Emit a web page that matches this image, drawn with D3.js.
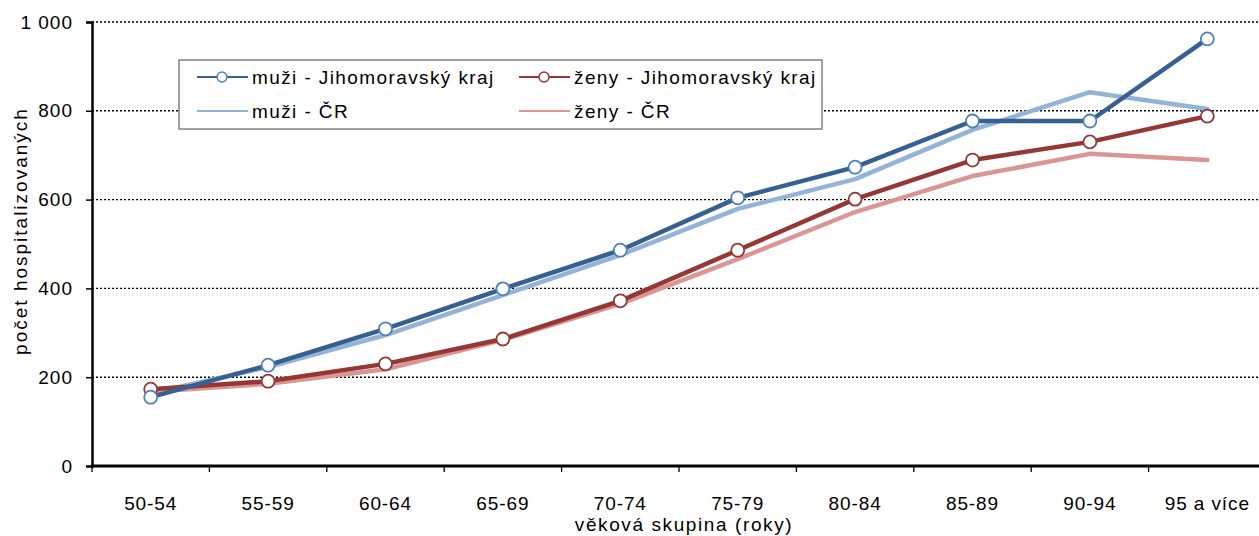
<!DOCTYPE html>
<html><head><meta charset="utf-8">
<script src="https://cdn.jsdelivr.net/npm/d3@7"></script>
<style>body{margin:0;background:#fff;} text{font-family:"Liberation Sans",Arial,sans-serif;}</style>
</head><body>
<svg id="c" width="1259" height="536"></svg>
<script>
const categories = ["50-54","55-59","60-64","65-69","70-74","75-79","80-84","85-89","90-94","95 a více"];
const muziJMK = [155,227,309,399,486,604,673,777,777,962];
const zenyJMK = [173,191,230,286,372,486,601,689,730,788];
const muziCR  = [164,223,295,385,475,579,646,757,842,804];
const zenyCR  = [167,185,218,284,365,466,572,653,703,689];
const yTicks = [0,200,400,600,800,1000];

const svg = d3.select("#c");
const L = 92, R = 1266, T = 22, B = 466;
const x = d3.scaleBand().domain(categories).range([L, R]);
const y = d3.scaleLinear().domain([0,1000]).range([B, T]);

// grid
svg.append("g").selectAll("line").data(yTicks.filter(d=>d>0)).join("line")
  .attr("x1", L).attr("x2", 1259).attr("y1", d=>y(d)).attr("y2", d=>y(d))
  .attr("stroke","#000").attr("stroke-width",1.4).attr("stroke-dasharray","2,2");

// axes
const yAxis = d3.axisLeft(y).tickValues(yTicks).tickSize(6).tickPadding(13)
  .tickFormat(d => d===1000 ? "1 000" : d);
const gy = svg.append("g").attr("transform",`translate(${L},0)`).call(yAxis);
gy.select(".domain").attr("stroke","#000").attr("stroke-width",2.5);
gy.selectAll(".tick line").attr("stroke","#000").attr("stroke-width",1.5);
gy.selectAll("text").attr("font-size",19).attr("letter-spacing",1).attr("fill","#000")
  .attr("font-family","Liberation Sans, Arial, sans-serif");

const gx = svg.append("g").attr("transform",`translate(0,${B})`);
gx.append("line").attr("x1",L-1).attr("x2",1259).attr("y1",0).attr("y2",0).attr("stroke","#000").attr("stroke-width",3);
const bounds = categories.map(c=>x(c)).concat([R]);
gx.selectAll("line.t").data(bounds).join("line").attr("class","t")
  .attr("x1",d=>d).attr("x2",d=>d).attr("y1",0).attr("y2",6).attr("stroke","#000").attr("stroke-width",1.3);
gx.selectAll("text").data(categories).join("text")
  .attr("x",d=>x(d)+x.bandwidth()/2).attr("y",44).attr("text-anchor","middle")
  .attr("font-size",19).attr("letter-spacing",0.9).text(d=>d);

svg.append("text").attr("x",684).attr("y",531).attr("text-anchor","middle")
  .attr("font-size",19).attr("letter-spacing",1.6).text("věková skupina (roky)");
svg.append("text").attr("transform",`translate(27,231) rotate(-90)`).attr("text-anchor","middle")
  .attr("font-size",19).attr("letter-spacing",2).text("počet hospitalizovaných");

const cx = c => x(c) + x.bandwidth()/2;
const line = d3.line().x((d,i)=>cx(categories[i])).y(d=>y(d));

const series = [
  {name:"muži - ČR", data:muziCR, color:"#95B3D7", marker:false},
  {name:"ženy - ČR", data:zenyCR, color:"#D99694", marker:false},
  {name:"ženy - Jihomoravský kraj", data:zenyJMK, color:"#953735", marker:true, mstroke:"#953735"},
  {name:"muži - Jihomoravský kraj", data:muziJMK, color:"#376092", marker:true, mstroke:"#4F81BD"},
];
series.forEach(s=>{
  svg.append("path").attr("d",line(s.data)).attr("fill","none").attr("stroke",s.color)
    .attr("stroke-width",4.5).attr("stroke-linejoin","round").attr("stroke-linecap","round");
});
series.filter(s=>s.marker).forEach(s=>{
  svg.append("g").selectAll("circle").data(s.data).join("circle")
    .attr("cx",(d,i)=>cx(categories[i])).attr("cy",d=>y(d)).attr("r",6.5)
    .attr("fill","#fff").attr("stroke",s.mstroke).attr("stroke-width",1.8);
});

// legend
const lg = svg.append("g");
lg.append("rect").attr("x",179).attr("y",60).attr("width",643).attr("height",69)
  .attr("fill","#fff").attr("stroke","#808080").attr("stroke-width",1.5);
const items = [
  {s:series[3], x:197, y:77},
  {s:series[2], x:519, y:77},
  {s:series[0], x:197, y:111},
  {s:series[1], x:519, y:111},
];
items.forEach(it=>{
  lg.append("line").attr("x1",it.x).attr("x2",it.x+51).attr("y1",it.y).attr("y2",it.y)
    .attr("stroke",it.s.color).attr("stroke-width",2.2);
  if(it.s.marker) lg.append("circle").attr("cx",it.x+25).attr("cy",it.y).attr("r",5)
    .attr("fill","#fff").attr("stroke",it.s.mstroke).attr("stroke-width",1.5);
  lg.append("text").attr("x",it.x+55).attr("y",it.y+7).attr("font-size",19)
    .attr("letter-spacing",1.4).text(it.s.name);
});
</script>
</body></html>
